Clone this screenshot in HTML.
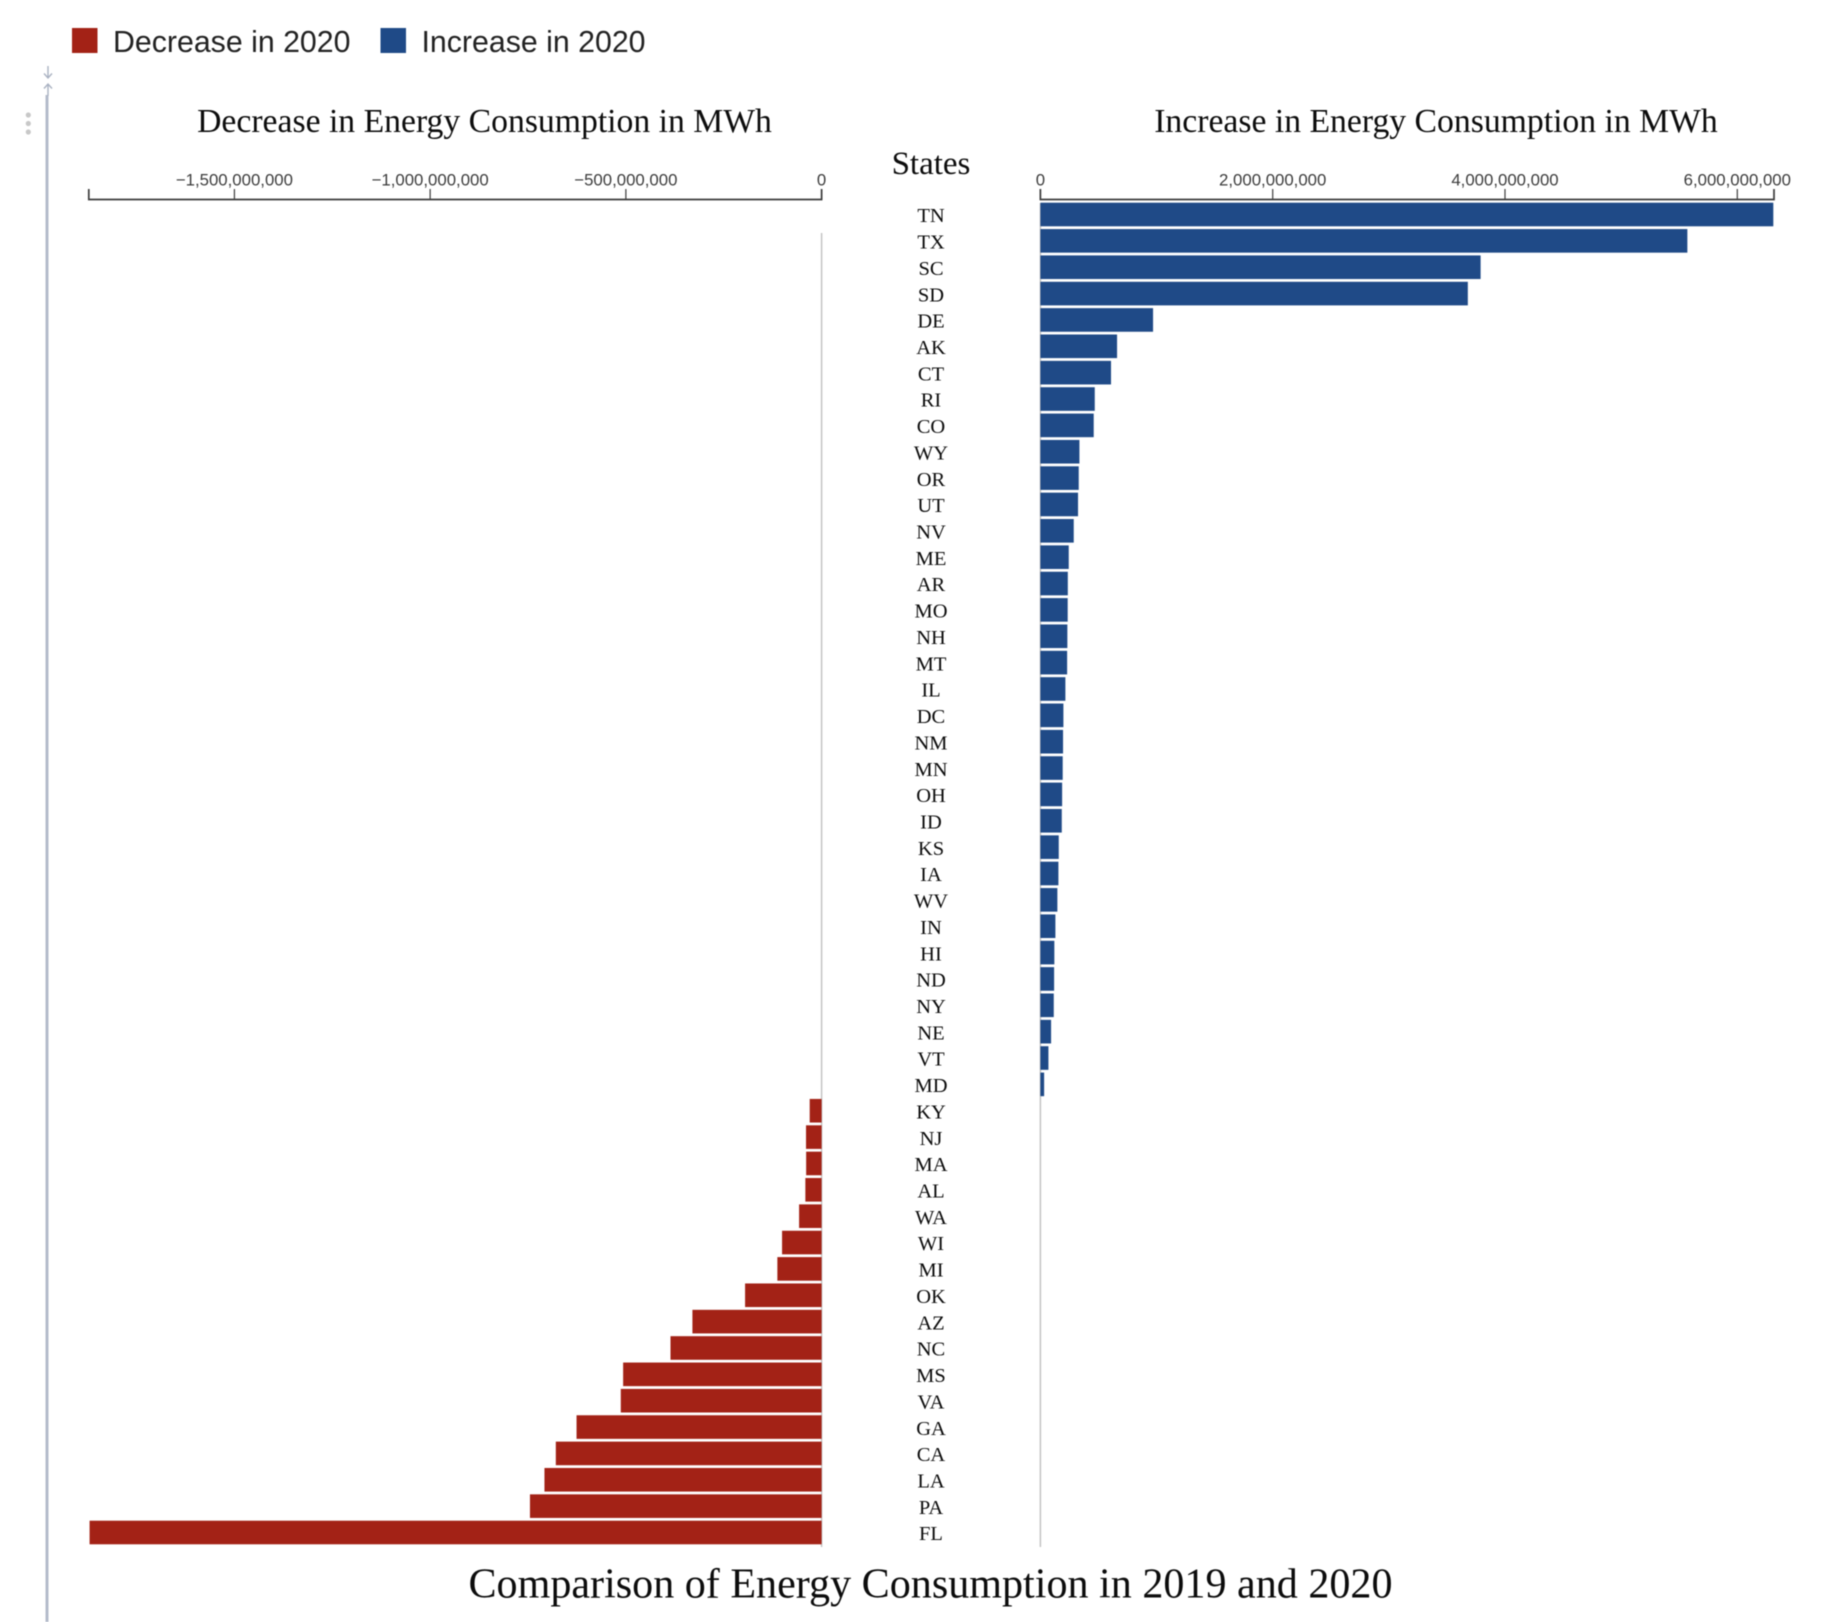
<!DOCTYPE html>
<html>
<head>
<meta charset="utf-8">
<style>
html,body{margin:0;padding:0;background:#fff;width:1822px;height:1622px;overflow:hidden}
svg{display:block;filter:blur(0.45px)}
.serif{font-family:"Liberation Serif",serif;fill:#0c0c0c}
.sans{font-family:"Liberation Sans",sans-serif}
</style>
</head>
<body>
<svg id="chart" width="1822" height="1622" viewBox="0 0 1822 1622" xmlns="http://www.w3.org/2000/svg">
  <rect x="72" y="28" width="25.5" height="25" fill="#a32216"/>
  <text x="113" y="52" class="sans" font-size="30.3" fill="#222">Decrease in 2020</text>
  <rect x="380.5" y="28" width="25.5" height="25" fill="#1f4a87"/>
  <text x="421.5" y="52" class="sans" font-size="30.3" fill="#222">Increase in 2020</text>

  <g>
    <rect x="45.5" y="95" width="3" height="1527" fill="#b4bccb"/>
    <path d="M48 66V78M44 73.5L48 78L52 73.5M48 96V84M44 88.5L48 84L52 88.5" fill="none" stroke="#aab2c2" stroke-width="1.4"/>
    <circle cx="28.3" cy="115" r="2.6" fill="#c8c8c8"/>
    <circle cx="28.3" cy="123.5" r="2.6" fill="#c8c8c8"/>
    <circle cx="28.3" cy="132" r="2.6" fill="#c8c8c8"/>
  </g>

  <text x="484.5" y="132" text-anchor="middle" class="serif" font-size="33.7">Decrease in Energy Consumption in MWh</text>
  <text x="1436" y="132" text-anchor="middle" class="serif" font-size="33.7">Increase in Energy Consumption in MWh</text>
  <text x="931" y="174" text-anchor="middle" class="serif" font-size="33">States</text>
  <text x="930.5" y="1597.5" text-anchor="middle" class="serif" font-size="42.1">Comparison of Energy Consumption in 2019 and 2020</text>

  <g id="left-axis"></g>
  <g id="right-axis"></g>
  <g id="left-bars"></g>
  <g id="right-bars"></g>
  <g id="state-labels"></g>
</svg>

<script>
const states = ["TN","TX","SC","SD","DE","AK","CT","RI","CO","WY","OR","UT","NV","ME","AR","MO","NH","MT","IL","DC","NM","MN","OH","ID","KS","IA","WV","IN","HI","ND","NY","NE","VT","MD","KY","NJ","MA","AL","WA","WI","MI","OK","AZ","NC","MS","VA","GA","CA","LA","PA","FL"];
const increaseValues = [6310000000,5570000000,3790000000,3680000000,970000000,660000000,608000000,468000000,459000000,336000000,330000000,324000000,287000000,244000000,236000000,235000000,232000000,230000000,215000000,198000000,195000000,192000000,187000000,184000000,158000000,155000000,146000000,129000000,120000000,118000000,115000000,92000000,69000000,32000000,0,0,0,0,0,0,0,0,0,0,0,0,0,0,0,0,0];
const decreaseValues = [0,0,0,0,0,0,0,0,0,0,0,0,0,0,0,0,0,0,0,0,0,0,0,0,0,0,0,0,0,0,0,0,0,0,-30400000,-39800000,-39500000,-41500000,-57500000,-101000000,-113000000,-195500000,-330000000,-386000000,-507000000,-513000000,-626000000,-679000000,-708000000,-745000000,-1870000000];
const decreaseTicks = [-1500000000,-1000000000,-500000000,0];
const decreaseTickLabels = ["\u22121,500,000,000","\u22121,000,000,000","\u2212500,000,000","0"];
const increaseTicks = [0,2000000000,4000000000,6000000000];
const increaseTickLabels = ["0","2,000,000,000","4,000,000,000","6,000,000,000"];
const decreaseDomain = [-1872000000,0];
const increaseDomain = [0,6316000000];

const NS = "http://www.w3.org/2000/svg";
const AXIS_Y = 199.5, TICK = 10.5, ROW0 = 202.7, STEP = 26.36, BAR_H = 23.6;
const LEFT_RANGE = [88.8,821.6], RIGHT_RANGE = [1040.4,1774];
function linear(domain, range){
  return function(v){ return range[0] + (v - domain[0]) / (domain[1] - domain[0]) * (range[1] - range[0]); };
}
const xLeft = linear(decreaseDomain, LEFT_RANGE);
const xRight = linear(increaseDomain, RIGHT_RANGE);
function yRow(i){ return ROW0 + i * STEP; }
function make(tag, attrs, parent){
  const el = document.createElementNS(NS, tag);
  for (const k in attrs) el.setAttribute(k, attrs[k]);
  parent.appendChild(el);
  return el;
}

function drawAxis(groupId, scale, domain, ticks, labels){
  const g = document.getElementById(groupId);
  const a = scale(domain[0]), b = scale(domain[1]);
  const path = make("path", {d:"M"+a+" "+(AXIS_Y-TICK)+"V"+AXIS_Y+"H"+b+"V"+(AXIS_Y-TICK), fill:"none", stroke:"#3c3c3c", "stroke-width":1.7}, g);
  
  
  ticks.forEach(function(t, i){
    const x = scale(t);
    const line = make("line", {x1:x, x2:x, y1:AXIS_Y, y2:AXIS_Y-TICK, stroke:"#3c3c3c", "stroke-width":1.2}, g);
    
    
    const label = make("text", {x:x, y:185.3, "text-anchor":"middle", "class":"sans", "font-size":16.8, fill:"#3c3c3c"}, g);
    
    
    label.textContent = labels[i];
  });
}
drawAxis("left-axis", xLeft, decreaseDomain, decreaseTicks, decreaseTickLabels);
drawAxis("right-axis", xRight, increaseDomain, increaseTicks, increaseTickLabels);

const leftBars = document.getElementById("left-bars");
const rightBars = document.getElementById("right-bars");
const labelsG = document.getElementById("state-labels");

const leftZero = make("line", {x1:xLeft(0), x2:xLeft(0), y1:233, y2:1547, stroke:"#c4c4c4", "stroke-width":1.5}, leftBars);


const rightZero = make("line", {x1:xRight(0), x2:xRight(0), y1:203, y2:1547, stroke:"#c4c4c4", "stroke-width":1.5}, rightBars);



states.forEach(function(s, i){
  const y = yRow(i);
  if (decreaseValues[i] < 0){
    const x = xLeft(decreaseValues[i]);
    const r = make("rect", {x:x, y:y, width:xLeft(0)-x, height:BAR_H, fill:"#a32216"}, leftBars);
    
    
  }
  if (increaseValues[i] > 0){
    const r = make("rect", {x:xRight(0), y:y, width:xRight(increaseValues[i])-xRight(0), height:BAR_H, fill:"#1f4a87"}, rightBars);
    
    
  }
  const t = make("text", {x:931, y:y+19.5, "text-anchor":"middle", "class":"serif", "font-size":20.5}, labelsG);
  
  
  t.textContent = s;
});
</script>
</body>
</html>
